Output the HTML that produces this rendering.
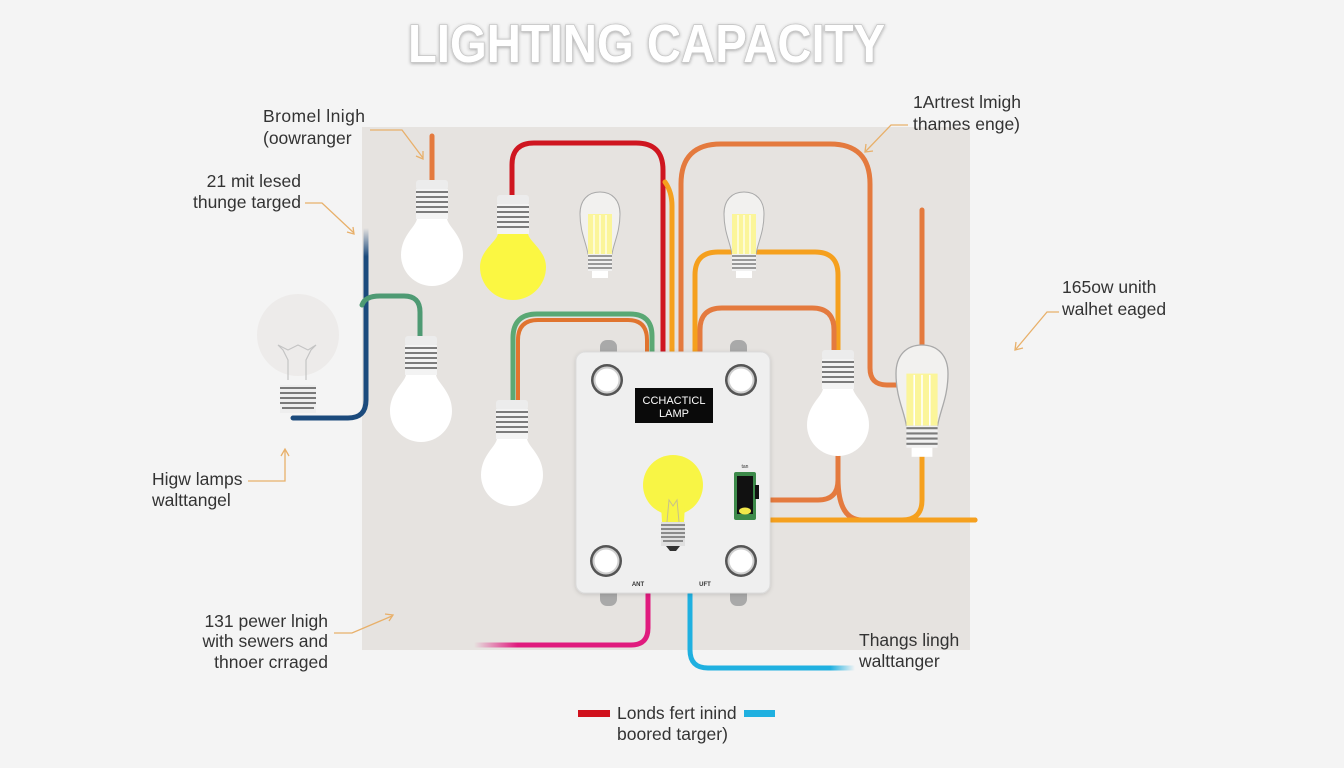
<!DOCTYPE html>
<html><head><meta charset="utf-8">
<style>
html,body{margin:0;padding:0;background:#f4f4f4;}
svg{display:block;}
text{font-family:"Liberation Sans",sans-serif;}
</style></head>
<body>
<svg width="1344" height="768" viewBox="0 0 1344 768" xmlns="http://www.w3.org/2000/svg">
<defs>
  <linearGradient id="fadeL" x1="0" x2="1" y1="0" y2="0"><stop offset="0" stop-color="#e01b7e" stop-opacity="0"/><stop offset="0.25" stop-color="#e01b7e"/><stop offset="1" stop-color="#e01b7e"/></linearGradient>
  <linearGradient id="fadeR" x1="0" x2="1" y1="0" y2="0"><stop offset="0" stop-color="#1fb0e0"/><stop offset="0.85" stop-color="#1fb0e0"/><stop offset="1" stop-color="#1fb0e0" stop-opacity="0"/></linearGradient>
  <linearGradient id="fadeBlue" x1="0" x2="0" y1="0" y2="1"><stop offset="0" stop-color="#1b4a7c" stop-opacity="0"/><stop offset="0.15" stop-color="#1b4a7c"/><stop offset="1" stop-color="#1b4a7c"/></linearGradient>
  <filter id="sh" x="-10%" y="-10%" width="120%" height="120%"><feDropShadow dx="0" dy="1" stdDeviation="2" flood-color="#000" flood-opacity="0.15"/></filter>
  <filter id="tsh"><feDropShadow dx="0" dy="1" stdDeviation="1.5" flood-color="#000" flood-opacity="0.3"/></filter>
  <g id="abulb">
    <path d="M-15,38 C-15,46 -31,55 -31,75 A31,31 0 1,0 31,75 C31,55 15,46 15,38 Z" fill="#ffffff"/>
    <rect x="-16" y="0" width="32" height="10" rx="3" fill="#ececec"/>
    <rect x="-16" y="9" width="32" height="30" fill="#f3f3f3"/>
    <g stroke="#7c7c7c" stroke-width="2">
      <line x1="-16" y1="12" x2="16" y2="12"/><line x1="-16" y1="17" x2="16" y2="17"/>
      <line x1="-16" y1="22" x2="16" y2="22"/><line x1="-16" y1="27" x2="16" y2="27"/>
      <line x1="-16" y1="32" x2="16" y2="32"/>
    </g>
  </g>
  <g id="ebulb">
    <path d="M-12,62 C-14,50 -20,40 -20,22 C-20,8 -12,0 0,0 C12,0 20,8 20,22 C20,40 14,50 12,62 Z" fill="#f2f1ef" stroke="#a9a9a9" stroke-width="1"/>
    <rect x="-12" y="22" width="24" height="40" fill="#fbf59a"/>
    <g stroke="#ffffff" stroke-width="1.2"><line x1="-6" y1="23" x2="-6" y2="62"/><line x1="0" y1="23" x2="0" y2="62"/><line x1="6" y1="23" x2="6" y2="62"/></g>
    <rect x="-12" y="62" width="24" height="17" fill="#f1f1f1"/>
    <g stroke="#7c7c7c" stroke-width="1.6"><line x1="-12" y1="64" x2="12" y2="64"/><line x1="-12" y1="68" x2="12" y2="68"/><line x1="-12" y1="72" x2="12" y2="72"/><line x1="-12" y1="76" x2="12" y2="76"/></g>
    <rect x="-8" y="79" width="16" height="7" fill="#ffffff"/>
  </g>
</defs>

<!-- panel -->
<rect x="362" y="127" width="608" height="523" fill="#e6e3e0"/>

<!-- title -->
<text x="408" y="62" font-size="54" font-weight="bold" fill="#ffffff" stroke="#c4c4c4" stroke-width="1.6" paint-order="stroke" textLength="477" lengthAdjust="spacingAndGlyphs" filter="url(#tsh)">LIGHTING CAPACITY</text>

<!-- wires -->
<g fill="none" stroke-width="5" stroke-linecap="round">
  <path d="M432,136 V182" stroke="#e47a3e"/>
  <path d="M512,198 V165 Q512,143 534,143 H636 Q663,143 663,170 V352" stroke="#cf1620"/>
  <path d="M665,182 Q672,192 672,206 V352" stroke="#f5a01e"/>
  <path d="M681,352 V184 Q681,144 721,144 H830 Q870,144 870,184 V368 Q870,385 887,385 H905" stroke="#e47a3e"/>
  <path d="M695,352 V275 Q695,252 718,252 H815 Q838,252 838,275 V355" stroke="#f5a01e"/>
  <path d="M700,352 V330 Q700,308 722,308 H812 Q834,308 834,330 V355" stroke="#e47a3e"/>
  <path d="M838,452 V480 Q838,500 818,500 H771" stroke="#e47a3e"/>
  <path d="M838,478 Q838,520 862,520 H975" stroke="#e47a3e"/>
  <path d="M771,520 H975" stroke="#f5a01e"/>
  <path d="M922,455 V500 Q922,520 902,520" stroke="#f5a01e"/>
  <path d="M922,210 V346" stroke="#e47a3e"/>
  <path d="M513,402 V338 Q513,314 537,314 H630 Q652,314 652,336 V352" stroke="#5aa874"/>
  <path d="M518,402 V340 Q518,320 538,320 H628 Q647,320 647,340 V352" stroke="#e0742f" stroke-width="4"/>
  <path d="M366,228 V400 Q366,418 348,418 H293" stroke="url(#fadeBlue)"/>
  <path d="M362,305 Q365,296 380,296 H404 Q420,296 420,312 V340" stroke="#4e9a73"/>
  <path d="M648,594 V628 Q648,645 631,645 H474" stroke="url(#fadeL)"/>
  <path d="M690,594 V650 Q690,668 708,668 H855" stroke="url(#fadeR)"/>
</g>

<!-- faded bulb -->
<circle cx="298" cy="335" r="41" fill="#ebe9e7" opacity="0.8"/>
<path d="M288,380 L288,360 L283,350 L278,345 L288,350 L298,345 L308,350 L316,345 L311,350 L306,360 L306,380" fill="none" stroke="#c4c4c4" stroke-width="1.2"/>
<rect x="280" y="385" width="36" height="28" fill="#eeeeee"/>
<g stroke="#7a7a7a" stroke-width="2"><line x1="280" y1="388" x2="316" y2="388"/><line x1="280" y1="393" x2="316" y2="393"/><line x1="280" y1="398" x2="316" y2="398"/><line x1="280" y1="403" x2="316" y2="403"/><line x1="282" y1="408" x2="314" y2="408"/></g>

<!-- A bulbs -->
<use href="#abulb" x="432" y="180"/>
<g transform="translate(513,195)">
  <path d="M-15,38 C-15,46 -33,55 -33,72 A33,33 0 1,0 33,72 C33,55 15,46 15,38 Z" fill="#fbf742"/>
  <rect x="-16" y="0" width="32" height="10" rx="3" fill="#ececec"/>
  <rect x="-16" y="9" width="32" height="30" fill="#f3f3f3"/>
  <g stroke="#7c7c7c" stroke-width="2"><line x1="-16" y1="12" x2="16" y2="12"/><line x1="-16" y1="17" x2="16" y2="17"/><line x1="-16" y1="22" x2="16" y2="22"/><line x1="-16" y1="27" x2="16" y2="27"/><line x1="-16" y1="32" x2="16" y2="32"/></g>
</g>
<use href="#abulb" x="421" y="336"/>
<use href="#abulb" x="512" y="400"/>
<use href="#abulb" x="838" y="350"/>

<!-- edison bulbs -->
<use href="#ebulb" x="600" y="192"/>
<use href="#ebulb" x="744" y="192"/>
<g transform="translate(922,345) scale(1.3)"><use href="#ebulb"/></g>

<!-- control box -->
<rect x="600" y="340" width="17" height="20" rx="7" fill="#a9a9a9"/>
<rect x="730" y="340" width="17" height="20" rx="7" fill="#a9a9a9"/>
<rect x="600" y="586" width="17" height="20" rx="7" fill="#a9a9a9"/>
<rect x="730" y="586" width="17" height="20" rx="7" fill="#a9a9a9"/>
<rect x="576" y="352" width="194" height="241" rx="9" fill="#efefef" stroke="#dcdcdc" stroke-width="1" filter="url(#sh)"/>
<g>
  <circle cx="607" cy="380" r="16" fill="#555"/><circle cx="607" cy="380" r="13.5" fill="#cfcfcf"/><circle cx="607" cy="380" r="11.5" fill="#ffffff"/>
  <circle cx="741" cy="380" r="16" fill="#555"/><circle cx="741" cy="380" r="13.5" fill="#cfcfcf"/><circle cx="741" cy="380" r="11.5" fill="#ffffff"/>
  <circle cx="606" cy="561" r="16" fill="#555"/><circle cx="606" cy="561" r="13.5" fill="#cfcfcf"/><circle cx="606" cy="561" r="11.5" fill="#ffffff"/>
  <circle cx="741" cy="561" r="16" fill="#555"/><circle cx="741" cy="561" r="13.5" fill="#cfcfcf"/><circle cx="741" cy="561" r="11.5" fill="#ffffff"/>
</g>
<rect x="635" y="388" width="78" height="35" fill="#0a0a0a"/>
<text x="674" y="404" font-size="11" fill="#ffffff" text-anchor="middle" font-family="Liberation Serif, serif">CCHACTICL</text>
<text x="674" y="417" font-size="11" fill="#ffffff" text-anchor="middle" font-family="Liberation Serif, serif">LAMP</text>
<!-- box bulb -->
<circle cx="673" cy="485" r="30" fill="#f8f545"/>
<path d="M661,505 Q673,512 685,505 L684,522 L662,522 Z" fill="#f8f545"/>
<path d="M667,522 L669,500 L673,506 L677,500 L679,522" fill="none" stroke="#c8c28a" stroke-width="1"/>
<rect x="661" y="522" width="24" height="24" fill="#e0e0e0"/>
<g stroke="#6e6e6e" stroke-width="1.6"><line x1="661" y1="525" x2="685" y2="525"/><line x1="661" y1="529" x2="685" y2="529"/><line x1="661" y1="533" x2="685" y2="533"/><line x1="661" y1="537" x2="685" y2="537"/><line x1="663" y1="541" x2="683" y2="541"/></g>
<path d="M666,546 L680,546 L676,551 L670,551 Z" fill="#333"/>
<!-- switch -->
<text x="745" y="468" font-size="5" fill="#333" text-anchor="middle">tan</text>
<rect x="734" y="472" width="22" height="48" rx="2" fill="#3d8a4a"/>
<rect x="737" y="476" width="16" height="38" fill="#111"/>
<ellipse cx="745" cy="511" rx="6" ry="3.5" fill="#f2e84a"/>
<rect x="755" y="485" width="4" height="14" fill="#111"/>
<text x="638" y="586" font-size="6" fill="#333" text-anchor="middle" font-weight="bold">ANT</text>
<text x="705" y="586" font-size="6" fill="#333" text-anchor="middle" font-weight="bold">UFT</text>

<!-- annotation arrows -->
<g fill="none" stroke="#e8b06a" stroke-width="1.3">
  <path d="M370,130 H402 L423,158"/><path d="M416,156 L423,159 L423,151"/>
  <path d="M305,203 H322 L354,233"/><path d="M347,232 L354,234 L353,227"/>
  <path d="M908,125 H891 L866,151"/><path d="M866,144 L865,152 L873,151"/>
  <path d="M1059,312 H1047 L1016,349"/><path d="M1016,342 L1015,350 L1023,348"/>
  <path d="M248,481 H285 V450"/><path d="M281,456 L285,449 L289,456"/>
  <path d="M334,633 H352 L392,616"/><path d="M385,614 L393,615 L389,621"/>
</g>

<!-- labels -->
<g font-size="17.5" fill="#333">
  <text x="263" y="122" textLength="102" lengthAdjust="spacing">Bromel lnigh</text>
  <text x="263" y="144">(oowranger</text>
  <text x="301" y="187" text-anchor="end">21 mit lesed</text>
  <text x="301" y="208" text-anchor="end">thunge targed</text>
  <text x="913" y="108">1Artrest lmigh</text>
  <text x="913" y="130">thames enge)</text>
  <text x="1062" y="293">165ow unith</text>
  <text x="1062" y="315">walhet eaged</text>
  <text x="152" y="485">Higw lamps</text>
  <text x="152" y="506">walttangel</text>
  <text x="328" y="627" text-anchor="end">131 pewer lnigh</text>
  <text x="328" y="647" text-anchor="end">with sewers and</text>
  <text x="328" y="668" text-anchor="end">thnoer crraged</text>
  <text x="859" y="646">Thangs lingh</text>
  <text x="859" y="667">walttanger</text>
  <text x="617" y="719">Londs fert inind</text>
  <text x="617" y="740">boored targer)</text>
</g>
<rect x="578" y="710" width="32" height="7" fill="#d0111c"/>
<rect x="744" y="710" width="31" height="7" fill="#1fb0e0"/>
</svg>
</body></html>
